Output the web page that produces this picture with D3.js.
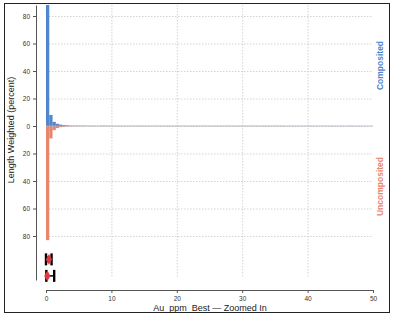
<!DOCTYPE html>
<html>
<head>
<meta charset="utf-8">
<script src="https://cdn.jsdelivr.net/npm/d3@7"></script>
<style>
  body { margin: 0; background: #fff; }
  svg { font-family: "Liberation Sans", Arial, sans-serif; }
  text { white-space: pre; }
</style>
</head>
<body>
<svg id="chart" width="395" height="323"></svg>
<script>
// bins of 0.5 ppm, starting at 0
const binWidth = 0.5;
const composited = [88, 8, 3, 1.6, 1, 0.7, 0.5, 0.4, 0.35, 0.3,
  0.25, 0.3, 0.2, 0.25, 0.2, 0.15, 0.2, 0.3, 0.25, 0.2,
  0.15, 0.1, 0.15, 0.1, 0.1, 0.15, 0.1, 0.1, 0.2, 0.1,
  0.1, 0.15, 0.1, 0.1, 0.1, 0.1, 0.1, 0.15, 0.1, 0.1,
  0.1, 0.1, 0.1, 0.1, 0.1, 0.1, 0.15, 0.1, 0.1, 0.1,
  0.1, 0.1, 0.1, 0.1, 0.1, 0.1, 0.1, 0.1, 0.1, 0.1,
  0.1, 0.1, 0.1, 0.1, 0.1, 0.1, 0.1, 0.1, 0.1, 0.1,
  0.1, 0.1, 0.1, 0, 0.1, 0.1, 0, 0.1, 0.1, 0,
  0.1, 0.1, 0, 0.1, 0.1, 0.1, 0, 0.1, 0.1, 0,
  0.1, 0, 0.1, 0.1, 0, 0.1, 0, 0, 0, 0];
const uncomposited = [83, 9, 3, 1.5, 0.8, 0.5, 0.4, 0.3, 0.25, 0.2,
  0.2, 0.15, 0.15, 0.1, 0.15, 0.1, 0.1, 0.1, 0.1, 0.1,
  0.1, 0.1, 0.1, 0.1, 0.1, 0.1, 0.1, 0.1, 0.1, 0.1,
  0.1, 0.1, 0.1, 0.1, 0.1, 0.1, 0.1, 0.1, 0.1, 0.1,
  0.1, 0.1, 0.1, 0.1, 0.1, 0.1, 0.1, 0.1, 0.1, 0.1,
  0.1, 0.1, 0.1, 0.1, 0.1, 0.1, 0.1, 0.1, 0.1, 0.1,
  0.1, 0.1, 0.1, 0.1, 0.1, 0.1, 0.1, 0.1, 0.1, 0.1,
  0.1, 0.1, 0.1, 0.1, 0, 0.1, 0.1, 0, 0.1, 0,
  0.1, 0, 0.1, 0, 0, 0.1, 0, 0.1, 0, 0,
  0.1, 0, 0, 0.1, 0, 0, 0, 0, 0, 0];

// box summaries: min, q1, median, q3, max, mean
const boxes = [
  { name: "Composited", min: 0, q1: 0.05, median: 0.15, q3: 0.3, max: 0.85, mean: 0.45, row: -97 },
  { name: "Uncomposited", min: 0.05, q1: 0.1, median: 0.2, q3: 0.4, max: 1.25, mean: 0.2, row: -109 }
];

const xTicks = [0, 10, 20, 30, 40, 50];
const yTicks = [-80, -60, -40, -20, 0, 20, 40, 60, 80];

const blue = "#4f86cc";
const orange = "#e8866c";

const svg = d3.select("#chart");

// frame
svg.append("rect")
    .attr("x", 4.5).attr("y", 3.5)
    .attr("width", 385).attr("height", 309)
    .attr("fill", "none")
    .attr("stroke", "#222")
    .attr("stroke-width", 1);

const xScale = d3.scaleLinear().domain([0, 50]).range([46, 373]);
const yScale = d3.scaleLinear().domain([-112, 88]).range([280, 5]);

const plotTop = 5, plotBottom = 280;

// grid
svg.append("g")
    .selectAll("line")
    .data(yTicks)
    .enter()
    .append("line")
    .attr("x1", xScale(0)).attr("x2", xScale(50))
    .attr("y1", d => yScale(d) + 0.5).attr("y2", d => yScale(d) + 0.5)
    .attr("stroke", "#c8c8c8")
    .attr("stroke-width", 0.8)
    .attr("stroke-dasharray", "1.5,1.5");

svg.append("g")
    .selectAll("line")
    .data(xTicks.slice(1, -1))
    .enter()
    .append("line")
    .attr("x1", d => xScale(d) + 0.5).attr("x2", d => xScale(d) + 0.5)
    .attr("y1", plotTop).attr("y2", plotBottom - 2)
    .attr("stroke", "#c8c8c8")
    .attr("stroke-width", 0.8)
    .attr("stroke-dasharray", "1.5,1.5");

// bars
svg.append("clipPath").attr("id", "plotclip")
    .append("rect")
    .attr("x", xScale(0) - 2).attr("y", plotTop)
    .attr("width", xScale(50) - xScale(0) + 4).attr("height", plotBottom - plotTop);

const bars = svg.append("g").attr("clip-path", "url(#plotclip)");

bars.selectAll("rect.comp")
    .data(composited)
    .enter()
    .append("rect")
    .attr("class", "comp")
    .attr("x", (d, i) => xScale(i * binWidth))
    .attr("width", xScale(binWidth) - xScale(0))
    .attr("y", d => yScale(d))
    .attr("height", d => yScale(0) - yScale(d))
    .attr("fill", blue)
    .attr("opacity", d => d < 0.5 ? 0.55 : 1);

bars.selectAll("rect.unc")
    .data(uncomposited)
    .enter()
    .append("rect")
    .attr("class", "unc")
    .attr("x", (d, i) => xScale(i * binWidth))
    .attr("width", xScale(binWidth) - xScale(0))
    .attr("y", yScale(0))
    .attr("height", d => yScale(-d) - yScale(0))
    .attr("fill", orange)
    .attr("opacity", d => d < 0.5 ? 0.55 : 1);

// zero line
svg.append("line")
    .attr("x1", xScale(0)).attr("x2", xScale(50))
    .attr("y1", yScale(0)).attr("y2", yScale(0))
    .attr("stroke", "#a9b2c2")
    .attr("stroke-width", 0.8);

// box plots
const bx = svg.append("g");
boxes.forEach(b => {
    const cy = yScale(b.row);
    bx.append("line")
        .attr("x1", xScale(b.min)).attr("x2", xScale(b.max))
        .attr("y1", cy).attr("y2", cy)
        .attr("stroke", "#000").attr("stroke-width", 1.5);
    [b.min, b.max].forEach(v => {
        bx.append("line")
            .attr("x1", xScale(v)).attr("x2", xScale(v))
            .attr("y1", cy - 6).attr("y2", cy + 6)
            .attr("stroke", "#000").attr("stroke-width", 2.4);
    });
    bx.append("rect")
        .attr("x", xScale(b.q1)).attr("width", xScale(b.q3) - xScale(b.q1))
        .attr("y", cy - 3).attr("height", 6)
        .attr("fill", "#000");
    bx.append("path")
        .attr("d", d3.symbol(d3.symbolDiamond, 34)())
        .attr("transform", `translate(${xScale(b.mean)},${cy})`)
        .attr("fill", "#e0393e");
});

// axes
const xAxis = svg.append("g")
    .attr("transform", "translate(0,290)")
    .call(d3.axisBottom(xScale).tickValues(xTicks).tickSize(3).tickSizeOuter(3));
xAxis.selectAll("text").attr("font-size", 6.5).attr("fill", "#333");
xAxis.select(".domain").attr("stroke", "#555");
xAxis.selectAll(".tick line").attr("stroke", "#555");

const yAxis = svg.append("g")
    .attr("transform", "translate(36,0)")
    .call(d3.axisLeft(yScale).tickValues(yTicks).tickSize(3).tickSizeOuter(0)
        .tickFormat(d => Math.abs(d)));
yAxis.selectAll("text").attr("font-size", 6.5).attr("fill", "#333");
yAxis.select(".domain").attr("stroke", "#555");
yAxis.selectAll(".tick line").attr("stroke", "#555");

// labels
svg.append("text")
    .attr("transform", `translate(14,${yScale(0) + 4}) rotate(-90)`)
    .attr("text-anchor", "middle")
    .attr("font-size", 9)
    .attr("fill", "#222")
    .text("Length Weighted (percent)");

svg.append("text")
    .attr("x", 210).attr("y", 311)
    .attr("text-anchor", "middle")
    .attr("font-size", 9)
    .attr("fill", "#222")
    .text("Au  ppm  Best \u2014 Zoomed In");

svg.append("text")
    .attr("transform", `translate(383,${yScale(44)}) rotate(-90)`)
    .attr("text-anchor", "middle")
    .attr("font-size", 8.5)
    .attr("font-weight", "bold")
    .attr("fill", blue)
    .text("Composited");

svg.append("text")
    .attr("transform", `translate(383,${yScale(-44)}) rotate(-90)`)
    .attr("text-anchor", "middle")
    .attr("font-size", 8.5)
    .attr("font-weight", "bold")
    .attr("fill", orange)
    .text("Uncomposited");
</script>
</body>
</html>
